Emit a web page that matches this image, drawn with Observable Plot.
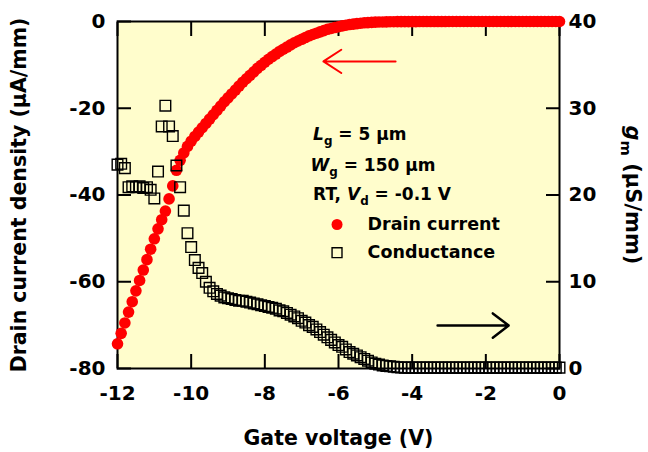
<!DOCTYPE html>
<html><head><meta charset="utf-8">
<script src="https://cdn.jsdelivr.net/npm/d3@7"></script>
<script src="https://cdn.jsdelivr.net/npm/@observablehq/plot@0.6"></script>
<style>body{margin:0;background:#fff}</style>
</head><body><div id="chart"></div>
<script>
// Gate voltage (V)
const gateVoltage = [
-12.0,-11.9,-11.8,-11.7,-11.6,-11.5,-11.4,-11.3,-11.2,-11.1,
-11.0,-10.9,-10.8,-10.7,-10.6,-10.5,-10.4,-10.3,-10.2,-10.1,
-10.0,-9.9,-9.8,-9.7,-9.6,-9.5,-9.4,-9.3,-9.2,-9.1,
-9.0,-8.9,-8.8,-8.7,-8.6,-8.5,-8.4,-8.3,-8.2,-8.1,
-8.0,-7.9,-7.8,-7.7,-7.6,-7.5,-7.4,-7.3,-7.2,-7.1,
-7.0,-6.9,-6.8,-6.7,-6.6,-6.5,-6.4,-6.3,-6.2,-6.1,
-6.0,-5.9,-5.8,-5.7,-5.6,-5.5,-5.4,-5.3,-5.2,-5.1,
-5.0,-4.9,-4.8,-4.7,-4.6,-4.5,-4.4,-4.3,-4.2,-4.1,
-4.0,-3.9,-3.8,-3.7,-3.6,-3.5,-3.4,-3.3,-3.2,-3.1,
-3.0,-2.9,-2.8,-2.7,-2.6,-2.5,-2.4,-2.3,-2.2,-2.1,
-2.0,-1.9,-1.8,-1.7,-1.6,-1.5,-1.4,-1.3,-1.2,-1.1,
-1.0,-0.9,-0.8,-0.7,-0.6,-0.5,-0.4,-0.3,-0.2,-0.1,
0.0];
// Drain current density (µA/mm), left axis
const drainCurrent = [
-74.3,-71.9,-69.5,-67.0,-64.6,-62.1,-59.7,-57.3,-54.9,-52.5,
-50.1,-47.8,-45.7,-43.7,-40.9,-37.9,-34.3,-32.0,-30.3,-28.8,
-27.6,-26.5,-25.5,-24.5,-23.5,-22.5,-21.5,-20.5,-19.5,-18.5,
-17.6,-16.7,-15.8,-14.9,-14.0,-13.2,-12.4,-11.6,-10.8,-10.1,
-9.4,-8.7,-8.1,-7.5,-6.9,-6.4,-5.9,-5.4,-4.9,-4.5,
-4.1,-3.7,-3.3,-3.0,-2.7,-2.4,-2.1,-1.8,-1.6,-1.4,
-1.2,-1.0,-0.85,-0.7,-0.6,-0.5,-0.4,-0.3,-0.25,-0.2,
-0.15,-0.12,-0.1,-0.08,-0.06,-0.05,-0.04,-0.03,-0.03,-0.02,
-0.02,-0.02,-0.01,-0.01,-0.01,-0.01,-0.01,-0.01,-0.01,-0.01,
0,0,0,0,0,0,0,0,0,0,
0,0,0,0,0,0,0,0,0,0,
0,0,0,0,0,0,0,0,0,0,
0];
// Conductance gm (µS/mm), right axis
const conductance = [
23.5,23.6,23.1,20.9,21.0,20.9,21.0,20.8,20.9,20.6,
19.6,22.7,27.9,30.3,27.9,26.8,23.4,20.9,18.2,15.6,
14.0,12.5,11.6,11.0,10.0,9.3,8.9,8.6,8.4,8.2,
8.1,8.0,7.9,7.8,7.8,7.7,7.6,7.5,7.4,7.3,
7.2,7.1,7.0,6.9,6.7,6.6,6.4,6.2,6.0,5.8,
5.5,5.3,5.0,4.8,4.5,4.2,3.9,3.6,3.3,3.0,
2.7,2.5,2.2,1.9,1.7,1.5,1.3,1.1,0.9,0.7,
0.55,0.45,0.35,0.3,0.25,0.2,0.15,0.12,0.1,0.1,
0.1,0.1,0.1,0.1,0.1,0.1,0.1,0.1,0.1,0.1,
0.1,0.1,0.1,0.1,0.1,0.1,0.1,0.1,0.1,0.1,
0.1,0.1,0.1,0.1,0.1,0.1,0.1,0.1,0.1,0.1,
0.1,0.1,0.1,0.1,0.1,0.1,0.1,0.1,0.1,0.1,
0.1];

const xTicks = [-12, -10, -8, -6, -4, -2, 0];
const yTicks = [-80, -60, -40, -20, 0];
const gmTicks = [0, 10, 20, 30, 40];

// annotation texts
const noteLabels = ["L_g = 5 µm", "W_g = 150 µm", "RT, V_d = -0.1 V"];
const noteX = [-6.69, -6.76, -6.69];
const noteY = [-26.0, -33.2, -39.9];
const legendLabels = ["Drain current", "Conductance"];
const legendMarkX = [-6.04, -6.04];
const legendTextX = [-5.21, -5.21];
const legendY = [-46.8, -53.3];

// arrows: red (towards left axis), black (towards right axis)
const arrowFromX = [-4.45, -3.31];
const arrowToX = [-6.41, -1.38];
const arrowY = [-9.2, -70.1];

// map right-axis gm (0..40) onto the left-axis scale (-80..0)
const gmToLeft = g => g * 2 - 80;
const leftToGm = v => (v + 80) / 2;

const rows = gateVoltage.map((v, i) => ({vg: v, id: drainCurrent[i], gm: conductance[i]}));
const notes = noteLabels.map((t, i) => ({t, x: noteX[i], y: noteY[i]}));
const legend = legendLabels.map((t, i) => ({t, mx: legendMarkX[i], tx: legendTextX[i], y: legendY[i]}));
const arrows = arrowFromX.map((x, i) => ({x1: x, x2: arrowToX[i], y: arrowY[i]}));

const F = "DejaVu Sans";
const tickFont = {fontFamily: F, fontWeight: "bold", fontSize: 20};
const titleFont = {fontFamily: F, fontWeight: "bold", fill: "black", textAnchor: "middle", lineAnchor: "middle"};

const plot = Plot.plot({
  width: 648, height: 452,
  marginLeft: 117, marginRight: 89, marginTop: 21, marginBottom: 84,
  style: {fontFamily: F, color: "black", background: "white", overflow: "visible"},
  x: {domain: [-12, 0]},
  y: {domain: [-80, 0]},
  marks: [
    Plot.frame({fill: "#fffdcc", stroke: "black", strokeWidth: 2}),
    // inward tick marks
    Plot.axisX({anchor: "bottom", ticks: xTicks, tickSize: 14, dy: -14, strokeWidth: 2, tickFormat: () => "", label: null}),
    Plot.axisX({anchor: "top", ticks: xTicks, tickSize: 14, dy: 14, strokeWidth: 2, tickFormat: () => "", label: null}),
    Plot.axisY({anchor: "left", ticks: yTicks, tickSize: 14, dx: 14, strokeWidth: 2, tickFormat: () => "", label: null}),
    Plot.axisY({anchor: "right", ticks: gmTicks.map(gmToLeft), tickSize: 14, dx: -14, strokeWidth: 2, tickFormat: () => "", label: null}),
    // tick labels
    Plot.axisX({anchor: "bottom", ticks: xTicks, tickSize: 0, tickPadding: 17, tickFormat: d => String(d), label: null, ...tickFont}),
    Plot.axisY({anchor: "left", ticks: yTicks, tickSize: 0, tickPadding: 12, tickFormat: d => String(d), label: null, ...tickFont}),
    Plot.axisY({anchor: "right", ticks: gmTicks.map(gmToLeft), tickSize: 0, tickPadding: 9, tickFormat: d => String(leftToGm(d)), label: null, ...tickFont}),
    // data
    Plot.dot(rows, {x: "vg", y: "id", r: 5.8, fill: "#ff0000"}),
    Plot.dot(rows, {x: "vg", y: d => gmToLeft(d.gm), r: 6, symbol: "square", stroke: "black", strokeWidth: 1.4, fill: "none"}),
    // arrows
    Plot.arrow([arrows[0]], {x1: "x1", x2: "x2", y1: "y", y2: "y", stroke: "#ff0000", strokeWidth: 2, headLength: 16, headAngle: 66}),
    Plot.arrow([arrows[1]], {x1: "x1", x2: "x2", y1: "y", y2: "y", stroke: "black", strokeWidth: 2.5, headLength: 12, headAngle: 75}),
    // annotations
    Plot.text(notes, {x: "x", y: "y", text: "t", textAnchor: "start", fontFamily: F, fontWeight: "bold", fontSize: 17, fill: "black"}),
    Plot.dot([legend[0]], {x: "mx", y: "y", r: 5.5, fill: "#ff0000"}),
    Plot.dot([legend[1]], {x: "mx", y: "y", r: 5.6, symbol: "square", stroke: "black", strokeWidth: 1.4, fill: "none"}),
    Plot.text(legend, {x: "tx", y: "y", text: "t", textAnchor: "start", fontFamily: F, fontWeight: "bold", fontSize: 17.5, fill: "black"}),
    // axis titles
    Plot.text(["Gate voltage (V)"], {frameAnchor: "bottom", dy: 70, fontSize: 20.5, ...titleFont}),
    Plot.text(["Drain current density (µA/mm)"], {frameAnchor: "left", dx: -98, rotate: -90, fontSize: 20.5, ...titleFont}),
    Plot.text(["g_m (µS/mm)"], {frameAnchor: "right", dx: 73, rotate: 90, fontSize: 21, ...titleFont})
  ]
});

// italic symbol + subscript for texts written as "X_s"
const NS = "http://www.w3.org/2000/svg";
plot.querySelectorAll("text").forEach(t => {
  const s = t.textContent;
  const m = s.match(/^(.*?)([A-Za-z])_([a-z])(.*)$/);
  if (!m) return;
  while (t.firstChild) t.removeChild(t.firstChild);
  const add = (txt, attrs) => {
    const ts = document.createElementNS(NS, "tspan");
    ts.textContent = txt;
    for (const k in attrs) ts.setAttribute(k, attrs[k]);
    t.appendChild(ts);
  };
  if (m[1]) add(m[1], {});
  add(m[2], {"font-style": "italic"});
  add(m[3], {"font-size": "70%", dy: "5"});
  add(m[4], {dy: "-5"});
});

document.getElementById("chart").appendChild(plot);
</script></body></html>
